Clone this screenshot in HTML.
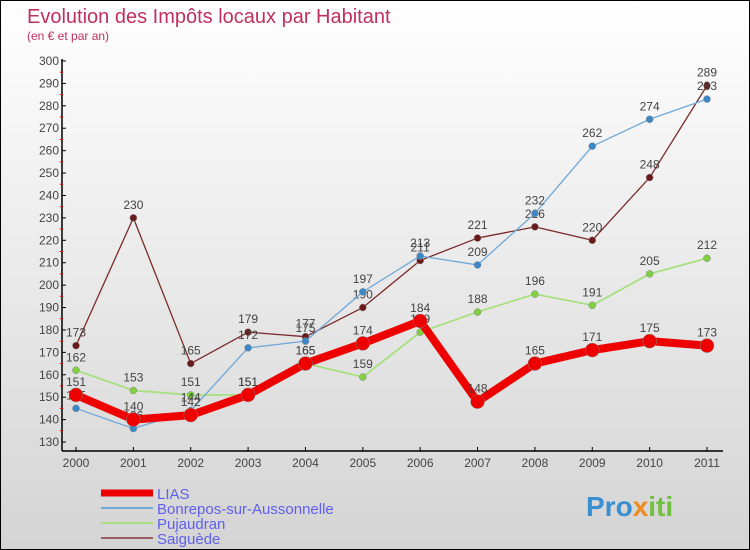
<!DOCTYPE html>
<html><head><meta charset="utf-8"><style>
body{margin:0}
#c{width:750px;height:550px;position:relative;box-sizing:border-box;border:1px solid #000;background:linear-gradient(#fff,#d4d4d4);overflow:hidden;font-family:"Liberation Sans",sans-serif}
</style></head><body>
<div id="c">
<svg id="s" width="750" height="550" style="position:absolute;left:0;top:0">
<text x="26" y="22" font-size="20" fill="#c0305e">Evolution des Impôts locaux par Habitant</text>
<text x="26" y="39" font-size="12" fill="#c0305e">(en € et par an)</text>
<g id="axes"></g><g id="series"></g><g id="legend"></g>
<text x="585" y="515" font-size="28" font-weight="bold" fill="#3a8fd0">Pro<tspan fill="#f08a20">x</tspan><tspan fill="#70c040">iti</tspan></text>
</svg>
</div>
<script>
const years=["2000","2001","2002","2003","2004","2005","2006","2007","2008","2009","2010","2011"];
const lias=[151,140,142,151,165,174,184,148,165,171,175,173];
const bonrepos=[145,136,144,172,175,197,213,209,232,262,274,283];
const pujaudran=[162,153,151,151,165,159,179,188,196,191,205,212];
const saiguede=[173,230,165,179,177,190,211,221,226,220,248,289];
const yTicks=[130,140,150,160,170,180,190,200,210,220,230,240,250,260,270,280,290,300];
const NS="http://www.w3.org/2000/svg";
function X(i){return 75+i*(706-75)/11;}
function Y(v){return 441-(v-130)*(381/170);}
function mk(t,a,p){const e=document.createElementNS(NS,t);for(const k in a)e.setAttribute(k,a[k]);p.appendChild(e);return e;}
const ax=document.getElementById('axes');
let e=mk('line',{x1:61,y1:58,x2:61,y2:450,stroke:'#000','stroke-width':1.5},ax);


e=mk('line',{x1:61,y1:450,x2:722,y2:450,stroke:'#000','stroke-width':1.5},ax);


yTicks.forEach((v,i)=>{
  mk('line',{x1:61,y1:Y(v),x2:65,y2:Y(v),stroke:'#000'},ax);
  if(i<yTicks.length-1)mk('line',{x1:59,y1:Y(v+5),x2:62,y2:Y(v+5),stroke:'#e00'},ax);
  const t=mk('text',{x:58,y:Y(v)+4,'font-size':12,'text-anchor':'end',fill:'#444'},ax);t.textContent=v;
  
  
});
years.forEach((y,i)=>{
  mk('line',{x1:X(i),y1:446,x2:X(i),y2:450,stroke:'#000'},ax);
  const t=mk('text',{x:X(i),y:466,'font-size':12,'text-anchor':'middle',fill:'#444'},ax);t.textContent=y;
  
  
});
const sg=document.getElementById('series');
const series=[
 {name:'saiguede',d:saiguede,c:'#7a2a2a',m:'#6a1a1a',w:1.3,r:3.5},
 {name:'pujaudran',d:pujaudran,c:'#a8e080',m:'#80d040',w:1.8,r:3.5},
 {name:'bonrepos',d:bonrepos,c:'#70a8d8',m:'#3a88c8',w:1.3,r:3.5},
 {name:'lias',d:lias,c:'#ee0000',m:'#ee0000',w:8,r:7}
];
series.forEach(s=>{
  const g=mk('g',{},sg);
  
  
  const p=mk('polyline',{points:s.d.map((v,i)=>X(i)+','+Y(v)).join(' '),fill:'none',stroke:s.c,'stroke-width':s.w,'stroke-linejoin':'round'},g);
  
  
  s.d.forEach((v,i)=>{
    const c=mk('circle',{cx:X(i),cy:Y(v),r:s.r,fill:s.m,stroke:'#888','stroke-width':0.5},g);
    
    
    const t=mk('text',{x:X(i),y:Y(v)-9,'font-size':12,'text-anchor':'middle',fill:'#444'},g);t.textContent=v;
    
    
  });
});
const lg=document.getElementById('legend');
[['LIAS','#ee0000',7],['Bonrepos-sur-Aussonnelle','#70a8d8',2],['Pujaudran','#a8e080',2],['Saiguède','#9a6060',2]].forEach((l,i)=>{
  const y=492+i*15;
  const ln=mk('line',{x1:100,y1:y,x2:152,y2:y,stroke:l[1],'stroke-width':l[2]},lg);
  
  
  const t=mk('text',{x:156,y:y+6,'font-size':15,fill:'#6060ee'},lg);t.textContent=l[0];
  
  
});
</script>
</body></html>
